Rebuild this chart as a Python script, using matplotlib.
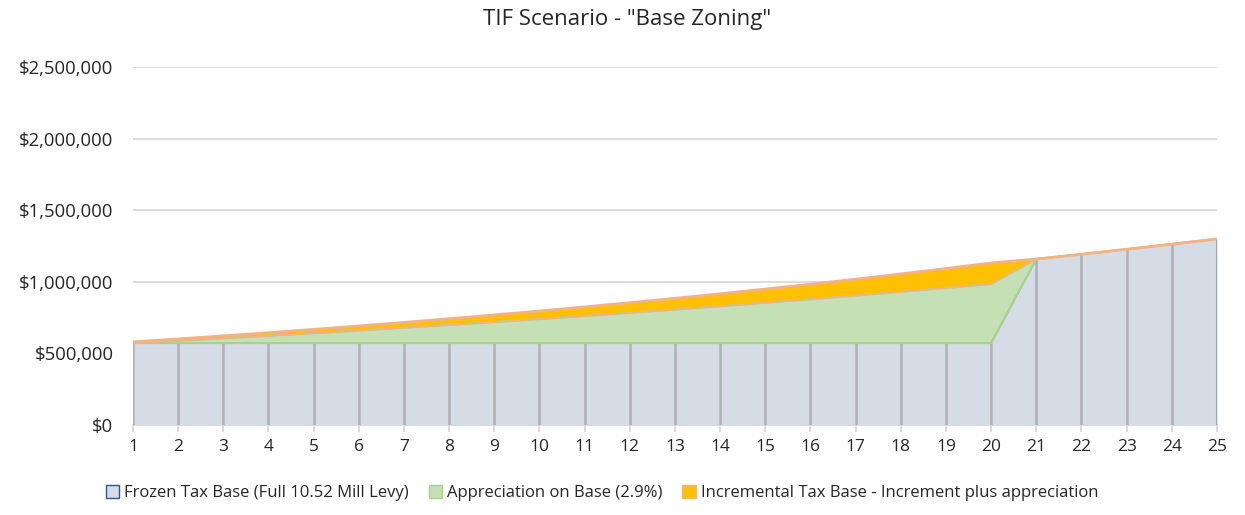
import numpy as np
import matplotlib.pyplot as plt
from matplotlib.patches import Patch
from matplotlib.ticker import FuncFormatter

plt.rcParams['font.family'] = ['Open Sans', 'DejaVu Sans']

years = list(range(1, 26))

# frozen base value, jumps once the district closes after year 20
frozen = [572000] * 20 + [1159000, 1192600, 1227200, 1262800, 1299400]

appreciation = [0, 16588, 33657, 51221, 69294, 87892, 107029, 126720, 146983,
                167834, 189289, 211367, 234084, 257460, 281515, 306267, 331737,
                357946, 384914, 412665, 0, 0, 0, 0, 0]

increment = [8000, 12176, 16615, 21328, 26330, 31633, 37252, 43204, 49502,
             56163, 63204, 70643, 78500, 86792, 95538, 104762, 114485, 124728,
             135518, 146876, 0, 0, 0, 0, 0]

labels = ['Frozen Tax Base (Full 10.52 Mill Levy)',
          'Appreciation on Base (2.9%)',
          'Incremental Tax Base - Increment plus appreciation']

fill_colors = ['#D6DCE5', '#C5E0B4', '#FFC000']
edge_colors = ['#A5ABB5', '#A9D18E', '#F4B183']

x = np.array(years)
frozen = np.array(frozen)
appreciation = np.array(appreciation)
increment = np.array(increment)

fig = plt.figure(figsize=(12.45, 5.15), dpi=100)
ax = fig.add_axes([0.1068, 0.1748, 0.8707, 0.6951])

ax.set_axisbelow(True)
ax.yaxis.grid(True, color='#D9D9D9', linewidth=1.3)

lvl1 = frozen
lvl2 = lvl1 + appreciation
lvl3 = lvl2 + increment

ax.fill_between(x, 0, lvl1, color=fill_colors[0], linewidth=0, zorder=2)
ax.fill_between(x, lvl1, lvl2, color=fill_colors[1], linewidth=0, zorder=2)
ax.fill_between(x, lvl2, lvl3, color=fill_colors[2], linewidth=0, zorder=2)

# drop lines for each year
ax.vlines(x, 0, lvl1, color='#B0B0B4', linewidth=1.8, zorder=3)
ax.vlines(x[-1], 0, lvl1[-1], color='#9AA3B8', linewidth=2.2, zorder=3)

# outlines: the green band is outlined top and bottom while it exists
ax.plot(x, lvl1, color=edge_colors[0], linewidth=1.2, zorder=4)
ax.plot(x[:21], lvl1[:21], color=edge_colors[1], linewidth=1.5, zorder=4)
ax.plot(x, lvl2, color=edge_colors[1], linewidth=1.5, zorder=4)
ax.plot(x[:21], lvl2[:21], color=edge_colors[2], linewidth=1.2, zorder=4)
ax.plot(x, lvl3, color=edge_colors[2], linewidth=2.0, zorder=5)

ax.set_xlim(1, 25)
ax.set_ylim(0, 2500000)
ax.set_xticks(years)
ax.set_yticks(np.arange(0, 2500001, 500000))
ax.yaxis.set_major_formatter(FuncFormatter(lambda v, p: '${:,.0f}'.format(v)))

for side in ['top', 'right', 'left']:
    ax.spines[side].set_visible(False)
ax.spines['bottom'].set_color('#D9D9D9')
ax.spines['bottom'].set_linewidth(1.3)
ax.spines['bottom'].set_zorder(1)

ax.tick_params(axis='y', length=0, pad=14, labelsize=13.3, labelcolor='#262626')
ax.tick_params(axis='x', length=5, width=1.3, color='#D9D9D9', pad=5,
               labelsize=12.5, labelcolor='#262626')

fig.text(0.5036, 0.962, 'TIF Scenario - "Base Zoning"', ha='center', va='center',
         fontsize=16, color='#262626')

handles = [Patch(facecolor=fill_colors[0], edgecolor='#2F5597', linewidth=1.0),
           Patch(facecolor=fill_colors[1], edgecolor=edge_colors[1], linewidth=1.0),
           Patch(facecolor=fill_colors[2], edgecolor=edge_colors[2], linewidth=1.0)]
fig.legend(handles, labels, loc='center', bbox_to_anchor=(0.4835, 0.043), ncol=3,
           frameon=False, fontsize=12.0, handlelength=0.8, handleheight=0.8,
           handletextpad=0.3, columnspacing=1.2, labelcolor='#262626')

plt.savefig('out.png', dpi=100)
